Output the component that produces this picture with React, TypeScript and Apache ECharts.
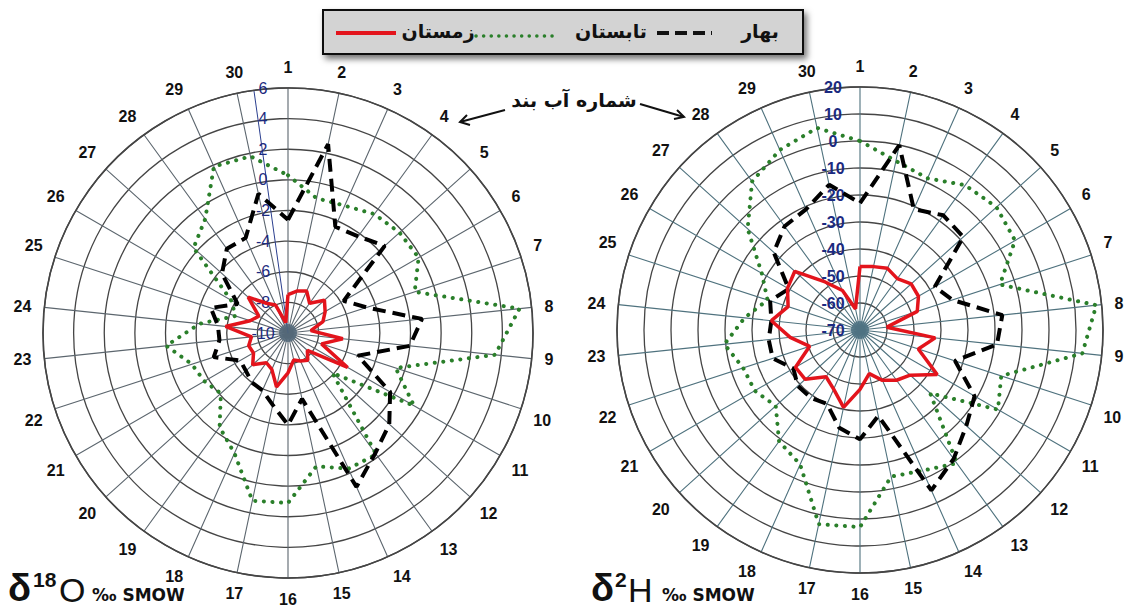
import React, { useEffect, useRef } from "react";
import * as echarts from "echarts";

const stations = [
  "1", "2", "3", "4", "5", "6", "7", "8", "9", "10",
  "11", "12", "13", "14", "15", "16", "17", "18", "19", "20",
  "21", "22", "23", "24", "25", "26", "27", "28", "29", "30",
];

const o18Range = [-10, 6];
const o18Step = 2;
const h2Range = [-70, 20];
const h2Step = 10;

// δ18O (‰ SMOW)
const o18Spring = [
  -2.6, 2.6, -2.4, -2.2, -1.5, -5.8, -4.6, -1.2, -2.0, -5.2,
  -2.3, -1.1, -0.3, 1.0, -5.6, -4.0, -5.2, -5.9, -6.0, -6.3,
  -6.4, -4.9, -5.5, -5.4, -4.7, -6.2, -4.2, -3.2, -3.2, -0.7,
];
const o18Summer = [
  0.3, -1.0, -0.9, -0.4, -0.2, -0.15, -1.3, 5.2, 3.6, -2.6,
  -0.5, -6.1, -0.2, -0.3, -1.1, 1.1, 1.2, -1.4, -2.4, -4.1,
  -3.7, -3.4, -2.0, -4.2, -6.4, -5.7, -1.7, -0.8, 1.9, 1.8,
];
const o18Winter = [
  -7.5, -7.2, -7.0, -7.6, -6.8, -7.2, -7.6, -8.5, -6.4, -7.7,
  -5.5, -8.3, -7.8, -8.0, -8.2, -7.4, -6.4, -7.4, -7.6, -6.9,
  -7.4, -7.3, -7.6, -5.9, -7.4, -7.8, -6.5, -7.6, -8.0, -9.3,
];

// δ2H (‰ SMOW)
const h2Spring = [
  -23, 0, -21, -17.5, -18.5, -38, -34, -17, -19, -33,
  -21, -17, -11, -5, -37.5, -29.5, -33, -40, -39, -39,
  -41.5, -36, -36, -37, -35, -39.5, -27, -22.5, -21, -15,
];
const h2Summer = [
  0, -6, -8.5, -3.7, -2, -3.7, -15.5, 18, 12.8, -15,
  -11, -35, -9, -13, -14.5, 3, 3.5, -15.5, -19, -28,
  -25, -24.5, -19.5, -27, -34, -28, -14, -2, 3, 6.5,
];
const h2Winter = [
  -46.5, -46, -45, -46.5, -44.5, -45, -47.7, -60, -42, -47.3,
  -37, -45, -47, -49.6, -53.5, -48, -40.7, -46, -48.6, -42.7,
  -42.4, -50.4, -44, -37, -42, -39, -37.5, -48, -54, -62,
];

const seasonSpring = "بهار";
const seasonSummer = "تابستان";
const seasonWinter = "زمستان";

const closeLoop = (vals: number[]) =>
  vals.map((v, i) => [v, i]).concat([[vals[0], vals.length]]);

const springStyle = { color: "#000000", width: 4, type: [13, 7] as number[], cap: "butt" };
const summerStyle = { color: "#2a7f2a", width: 4, type: [0.1, 8.5] as number[], cap: "round" };
const winterStyle = { color: "#e3141c", width: 3.5, type: "solid" };

const makeSeries = (polarIndex: number, spring: number[], summer: number[], winter: number[]) => [
  {
    type: "line", name: seasonSummer, coordinateSystem: "polar", polarIndex,
    data: closeLoop(summer), symbol: "none", lineStyle: summerStyle, z: 3,
  },
  {
    type: "line", name: seasonSpring, coordinateSystem: "polar", polarIndex,
    data: closeLoop(spring), symbol: "none", lineStyle: springStyle, z: 4,
  },
  {
    type: "line", name: seasonWinter, coordinateSystem: "polar", polarIndex,
    data: closeLoop(winter), symbol: "none", lineStyle: winterStyle, z: 5,
  },
];

const angleAxisBase = (polarIndex: number, spokeColor: string) => ({
  polarIndex,
  type: "value",
  min: 0,
  max: stations.length,
  interval: 1,
  startAngle: 90,
  clockwise: true,
  axisLine: { show: true, lineStyle: { color: "#454545", width: 1.6 } },
  axisTick: { show: false },
  axisLabel: {
    show: true,
    margin: 13,
    color: "#111",
    fontSize: 16,
    fontWeight: "bold",
    fontFamily: "Liberation Sans",
    formatter: (v: number) => (v < stations.length ? stations[v] : ""),
  },
  splitLine: { show: true, lineStyle: { color: spokeColor, width: 1.1 } },
});

export default function App() {
  const ref = useRef<HTMLDivElement>(null);
  useEffect(() => {
    if (!ref.current) return;
    const chart = echarts.init(ref.current, undefined, { renderer: "svg" });
    const legendFont = 'bold 19px "DejaVu Sans"';
    const supFont = 'bold 21px "Liberation Sans"';
    const bigFont = '34px "Liberation Sans"';
    const smowFont = 'bold 17px "DejaVu Sans"';
    chart.setOption({
      animation: false,
      backgroundColor: "#ffffff",
      polar: [
        { center: [288, 333], radius: 245 },
        { center: [288, 333], radius: 245 },
        { center: [860, 330], radius: 243 },
      ],
      angleAxis: [
        angleAxisBase(0, "#5c666e"),
        { polarIndex: 1, type: "value", min: 0, max: stations.length, startAngle: 98, show: false },
        angleAxisBase(2, "#4f727e"),
      ],
      radiusAxis: [
        {
          polarIndex: 0, type: "value", min: o18Range[0], max: o18Range[1], interval: o18Step,
          axisLine: { show: false }, axisTick: { show: false },
          axisLabel: {
            show: true, showMinLabel: true, showMaxLabel: true, margin: 25, align: "center",
            color: "#1b2a80", fontSize: 16, fontFamily: "Liberation Sans",
          },
          splitLine: { show: true, lineStyle: { color: "#454545", width: 1.3 } },
        },
        {
          polarIndex: 1, type: "value", min: o18Range[0], max: o18Range[1],
          axisLine: { show: true, lineStyle: { color: "#2b3f8f", width: 1 } },
          axisTick: { show: false }, axisLabel: { show: false }, splitLine: { show: false },
        },
        {
          polarIndex: 2, type: "value", min: h2Range[0], max: h2Range[1], interval: h2Step,
          axisLine: { show: false }, axisTick: { show: false },
          axisLabel: {
            show: true, showMinLabel: true, showMaxLabel: true, margin: 27, align: "center",
            color: "#1b2a80", fontSize: 16, fontWeight: "bold", fontFamily: "Liberation Sans",
          },
          splitLine: { show: true, lineStyle: { color: "#454545", width: 1.3 } },
        },
      ],
      series: [
        ...makeSeries(0, o18Spring, o18Summer, o18Winter),
        ...makeSeries(2, h2Spring, h2Summer, h2Winter),
      ],
      graphic: [
        { type: "circle", shape: { cx: 288, cy: 333, r: 9 }, style: { fill: "#52697a", opacity: 0.85 }, z: 1 },
        { type: "circle", shape: { cx: 860, cy: 330, r: 9 }, style: { fill: "#4e7283", opacity: 0.85 }, z: 1 },
        {
          type: "rect", shape: { x: 323, y: 10, width: 480, height: 44 },
          style: {
            fill: "#d3d3d3", stroke: "#111", lineWidth: 2,
            shadowBlur: 6, shadowColor: "rgba(0,0,0,0.55)", shadowOffsetX: 3, shadowOffsetY: 4,
          },
          z: 10,
        },
        { type: "line", shape: { x1: 336, y1: 33, x2: 396, y2: 33 }, style: { stroke: "#e3141c", lineWidth: 4 }, z: 11 },
        { type: "text", x: 438, y: 31, style: { text: seasonWinter, font: legendFont, fill: "#111", align: "center", verticalAlign: "middle" }, z: 11 },
        { type: "line", shape: { x1: 476, y1: 36, x2: 557, y2: 36 }, style: { stroke: "#2a7f2a", lineWidth: 3.5, lineDash: [0.1, 7.5], lineCap: "round" }, z: 11 },
        { type: "text", x: 611, y: 31, style: { text: seasonSummer, font: legendFont, fill: "#111", align: "center", verticalAlign: "middle" }, z: 11 },
        { type: "line", shape: { x1: 657, y1: 33, x2: 712, y2: 33 }, style: { stroke: "#111", lineWidth: 4, lineDash: [12, 6] }, z: 11 },
        { type: "text", x: 760, y: 31, style: { text: seasonSpring, font: legendFont, fill: "#111", align: "center", verticalAlign: "middle" }, z: 11 },

        { type: "text", x: 574, y: 100, style: { text: "شماره آب بند", font: 'bold 19px "DejaVu Sans"', fill: "#111", align: "center", verticalAlign: "middle" }, z: 11 },
        { type: "line", shape: { x1: 505, y1: 110, x2: 460, y2: 122 }, style: { stroke: "#111", lineWidth: 2 }, z: 11 },
        { type: "polyline", shape: { points: [[467, 115], [460, 122], [470, 125]] }, style: { stroke: "#111", lineWidth: 2, fill: null }, z: 11 },
        { type: "line", shape: { x1: 640, y1: 104, x2: 684, y2: 117 }, style: { stroke: "#111", lineWidth: 2 }, z: 11 },
        { type: "polyline", shape: { points: [[677, 110], [684, 117], [674, 119]] }, style: { stroke: "#111", lineWidth: 2, fill: null }, z: 11 },

        { type: "text", x: 8, y: 607, style: { text: "δ", font: 'bold 38px "Liberation Sans"', fill: "#111", verticalAlign: "bottom" }, z: 11 },
        { type: "text", x: 33, y: 590, style: { text: "18", font: supFont, fill: "#111", verticalAlign: "bottom" }, z: 11 },
        { type: "text", x: 59, y: 607, style: { text: "O", font: bigFont, fill: "#111", verticalAlign: "bottom" }, z: 11 },
        { type: "text", x: 92, y: 603, style: { text: "‰ SMOW", font: smowFont, fill: "#111", verticalAlign: "bottom" }, z: 11 },

        { type: "text", x: 591, y: 607, style: { text: "δ", font: 'bold 38px "Liberation Sans"', fill: "#111", verticalAlign: "bottom" }, z: 11 },
        { type: "text", x: 615, y: 590, style: { text: "2", font: supFont, fill: "#111", verticalAlign: "bottom" }, z: 11 },
        { type: "text", x: 628, y: 607, style: { text: "H", font: bigFont, fill: "#111", verticalAlign: "bottom" }, z: 11 },
        { type: "text", x: 662, y: 603, style: { text: "‰ SMOW", font: smowFont, fill: "#111", verticalAlign: "bottom" }, z: 11 },
      ],
    });
    return () => chart.dispose();
  }, []);
  return (
    <div
      ref={ref}
      style={{ position: "fixed", left: 0, top: 0, width: 1129, height: 615, background: "#fff" }}
    />
  );
}
